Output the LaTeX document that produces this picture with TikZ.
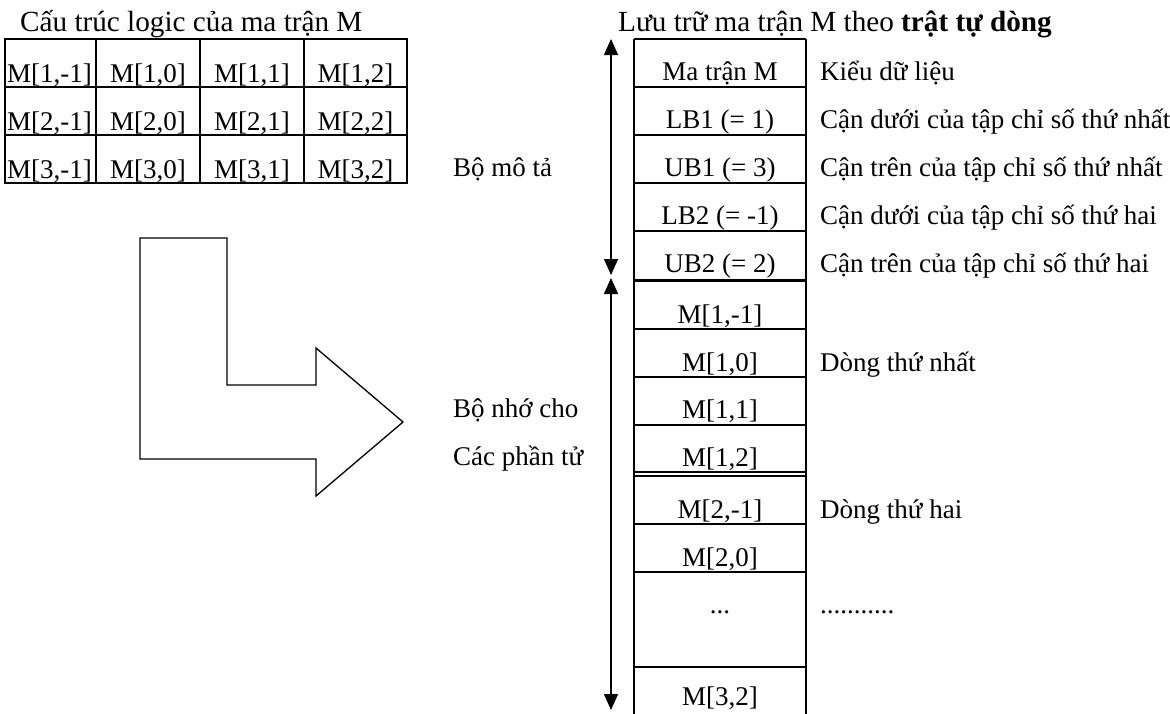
\documentclass[tikz,border=0pt]{standalone}
\usepackage{fontspec}
\setmainfont{Liberation Serif}
\usetikzlibrary{arrows.meta}
\begin{document}
\begin{tikzpicture}[x=1pt,y=-1pt,
  txt/.style={font=\fontsize{27}{31}\selectfont, inner sep=0pt},
  ttl/.style={font=\fontsize{29.2}{33}\selectfont, inner sep=0pt, anchor=base west},
  cell/.style={txt, anchor=base},
  lbl/.style={txt, anchor=base west},
  grid/.style={line width=1.3pt},
  thickgrid/.style={line width=3pt},
  dblarrow/.style={line width=1.4pt, {Triangle[width=14pt,length=16pt]}-{Triangle[width=14pt,length=16pt]}},
  bigarrow/.style={line width=1.3pt, line join=miter},
]
\useasboundingbox (0,0) rectangle (1170,713);

% ---- titles
\node[ttl] (titleL) at (20,31) {Cấu trúc logic của ma trận M};
\node[ttl] (titleR) at (618,31) {Lưu trữ ma trận M theo \textbf{trật tự dòng}};

% ---- logical matrix table
\draw[grid] (5,39) rectangle (407,183);
\foreach \y in {87,135} \draw[grid] (5,\y) -- (407,\y);
\foreach \x in {96,200,304} \draw[grid] (\x,39) -- (\x,183);
\foreach \r/\yb in {1/82,2/130,3/178} {
  \foreach \c/\lab/\xc in {1/-1/49.5,2/0/148,3/1/252,4/2/355.5}
    \node[cell] (m\r\c) at (\xc,\yb) {M[\r,\lab]};
}

% ---- big L arrow
\draw[bigarrow] (140,238) -- (227,238) -- (227,385) -- (316,385) -- (316,348)
  -- (403,422) -- (316,496) -- (316,459) -- (140,459) -- cycle;

% ---- storage column
\draw[grid] (634,39) -- (806,39);
\draw[grid] (634,39) -- (634,716);
\draw[grid] (806,39) -- (806,716);
\foreach \y in {87,135,183,231,329,377,425,472,476,524,572,667}
  \draw[grid] (634,\y) -- (806,\y);
\draw[thickgrid] (634,280) -- (806,280);

\node[cell] (s1) at (720,80) {Ma trận M};
\node[cell] (s2) at (720,128) {LB1 (= 1)};
\node[cell] (s3) at (720,176) {UB1 (= 3)};
\node[cell] (s4) at (720,224) {LB2 (= -1)};
\node[cell] (s5) at (720,272) {UB2 (= 2)};
\node[cell] (e1) at (720,323) {M[1,-1]};
\node[cell] (e2) at (720,371) {M[1,0]};
\node[cell] (e3) at (720,418) {M[1,1]};
\node[cell] (e4) at (720,466) {M[1,2]};
\node[cell] (e5) at (720,518) {M[2,-1]};
\node[cell] (e6) at (720,566) {M[2,0]};
\node[cell] (e7) at (720,613) {...};
\node[cell] (e8) at (720,705) {M[3,2]};

% ---- descriptions
\node[lbl] (d1) at (820,80) {Kiểu dữ liệu};
\node[lbl] (d2) at (820,128) {Cận dưới của tập chỉ số thứ nhất};
\node[lbl] (d3) at (820,176) {Cận trên của tập chỉ số thứ nhất};
\node[lbl] (d4) at (820,224) {Cận dưới của tập chỉ số thứ hai};
\node[lbl] (d5) at (820,272) {Cận trên của tập chỉ số thứ hai};
\node[lbl] (d6) at (820,371) {Dòng thứ nhất};
\node[lbl] (d7) at (820,518) {Dòng thứ hai};
\node[lbl] (d8) at (820,613) {...........};

% ---- left labels
\node[lbl] (l1) at (453,176) {Bộ mô tả};
\node[lbl] (l2) at (453,417) {Bộ nhớ cho};
\node[lbl] (l3) at (453,465) {Các phần tử};

% ---- span arrows
\coordinate (a1) at (611,39);
\coordinate (a2) at (611,275);
\coordinate (b1) at (611,278);
\coordinate (b2) at (611,710);
\draw[dblarrow] (a1) -- (a2);
\draw[dblarrow] (b1) -- (b2);
\end{tikzpicture}
\end{document}
